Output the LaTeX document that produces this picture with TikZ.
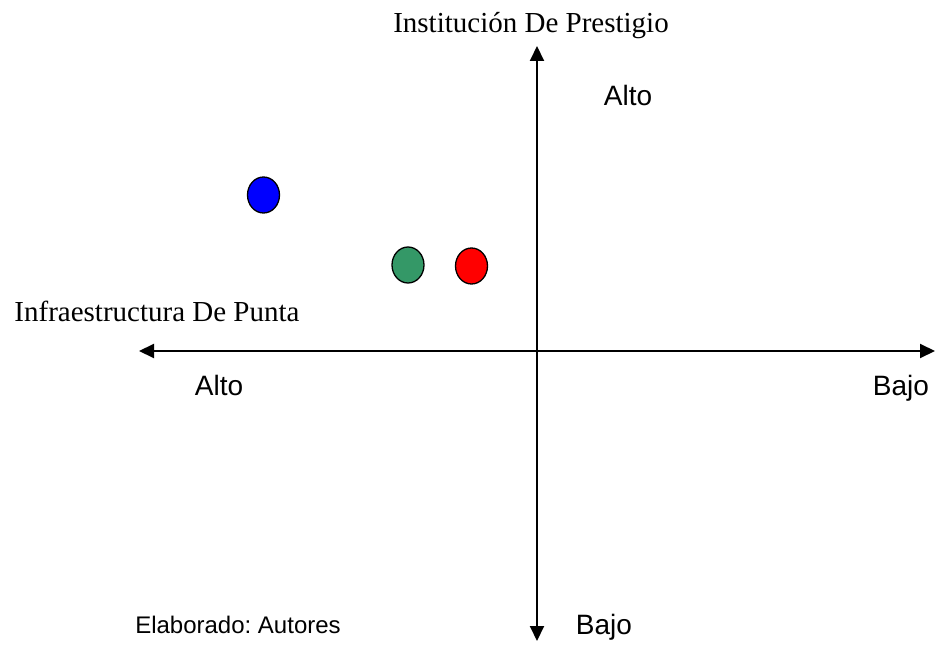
\documentclass[tikz,border=0pt]{standalone}
\usepackage{fontspec}
\setmainfont{Liberation Serif}
\setsansfont{Liberation Sans}
\usetikzlibrary{shapes.geometric,arrows.meta}
\frenchspacing

\begin{document}
\begin{tikzpicture}[
    x=1pt, y=-1pt,
    axis/.style={line width=2pt, {Triangle[length=15pt,width=14pt]}-{Triangle[length=15pt,width=14pt]}},
    title/.style={font=\fontsize{29}{32}\selectfont\rmfamily, anchor=base},
    level/.style={font=\fontsize{28}{31}\selectfont\sffamily, anchor=base},
    dot/.style={ellipse, draw=black, line width=1.3pt, minimum width=32pt, minimum height=36pt, inner sep=0pt}
]
\useasboundingbox (0,0) rectangle (935,655);

% Axes
\coordinate (top) at (537,46);
\coordinate (bottom) at (537,641);
\coordinate (left) at (139,351);
\coordinate (right) at (935,351);
\draw[axis] (bottom) -- (top);
\draw[axis] (left) -- (right);

% Axis titles
\node[title] (prestigio) at (531,33) {Institución De Prestigio};
\node[title] (punta) at (157,321) {Infraestructura De Punta};

% Levels
\node[level] (altoy) at (628,106) {Alto};
\node[level] (bajoy) at (604,634) {Bajo};
\node[level] (altox) at (219,395) {Alto};
\node[level] (bajox) at (901,395) {Bajo};

% Points
\node[dot, fill=blue] (azul) at (263.5,195) {};
\node[dot, fill={rgb,255:red,52;green,152;blue,103}] (verde) at (408,265) {};
\node[dot, fill=red] (rojo) at (471.5,266) {};

% Source
\node[font=\fontsize{24}{27}\selectfont\sffamily, anchor=base] (fuente) at (238,633) {Elaborado: Autores};

\end{tikzpicture}
\end{document}
